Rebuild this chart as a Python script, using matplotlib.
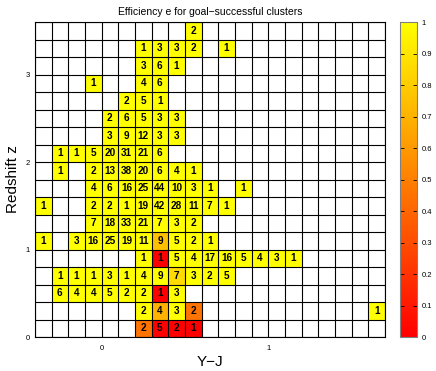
import numpy as np
import matplotlib
matplotlib.use("Agg")
import matplotlib.pyplot as plt
import matplotlib.ticker as ticker

plt.rcParams['font.family'] = ['Liberation Sans', 'DejaVu Sans']

# bin edges
x_edges = np.round(np.arange(-0.4, 1.7001, 0.1), 2)   # Y-J
z_edges = np.round(np.arange(0.0, 3.6001, 0.2), 2)    # redshift

# number of clusters per cell, rows from z=0 upwards, 21 columns
counts = [
    [0, 0, 0, 0, 0, 0, 2, 5, 2, 1, 0, 0, 0, 0, 0, 0, 0, 0, 0, 0, 0],
    [0, 0, 0, 0, 0, 0, 2, 4, 3, 2, 0, 0, 0, 0, 0, 0, 0, 0, 0, 0, 1],
    [0, 6, 4, 4, 5, 2, 2, 1, 3, 0, 0, 0, 0, 0, 0, 0, 0, 0, 0, 0, 0],
    [0, 1, 1, 1, 3, 1, 4, 9, 7, 3, 2, 5, 0, 0, 0, 0, 0, 0, 0, 0, 0],
    [0, 0, 0, 0, 0, 0, 1, 1, 5, 4, 17, 16, 5, 4, 3, 1, 0, 0, 0, 0, 0],
    [1, 0, 3, 16, 25, 19, 11, 9, 5, 2, 1, 0, 0, 0, 0, 0, 0, 0, 0, 0, 0],
    [0, 0, 0, 7, 18, 33, 21, 7, 3, 2, 0, 0, 0, 0, 0, 0, 0, 0, 0, 0, 0],
    [1, 0, 0, 2, 2, 1, 19, 42, 28, 11, 7, 1, 0, 0, 0, 0, 0, 0, 0, 0, 0],
    [0, 0, 0, 4, 6, 16, 25, 44, 10, 3, 1, 0, 1, 0, 0, 0, 0, 0, 0, 0, 0],
    [0, 1, 0, 2, 13, 38, 20, 6, 4, 1, 0, 0, 0, 0, 0, 0, 0, 0, 0, 0, 0],
    [0, 1, 1, 5, 20, 31, 21, 6, 0, 0, 0, 0, 0, 0, 0, 0, 0, 0, 0, 0, 0],
    [0, 0, 0, 0, 3, 9, 12, 3, 3, 0, 0, 0, 0, 0, 0, 0, 0, 0, 0, 0, 0],
    [0, 0, 0, 0, 2, 6, 5, 3, 3, 0, 0, 0, 0, 0, 0, 0, 0, 0, 0, 0, 0],
    [0, 0, 0, 0, 0, 2, 5, 1, 0, 0, 0, 0, 0, 0, 0, 0, 0, 0, 0, 0, 0],
    [0, 0, 0, 1, 0, 0, 4, 6, 0, 0, 0, 0, 0, 0, 0, 0, 0, 0, 0, 0, 0],
    [0, 0, 0, 0, 0, 0, 3, 6, 1, 0, 0, 0, 0, 0, 0, 0, 0, 0, 0, 0, 0],
    [0, 0, 0, 0, 0, 0, 1, 3, 3, 2, 0, 1, 0, 0, 0, 0, 0, 0, 0, 0, 0],
    [0, 0, 0, 0, 0, 0, 0, 0, 0, 2, 0, 0, 0, 0, 0, 0, 0, 0, 0, 0, 0],
]

# cells whose efficiency is below 1 (row, col, efficiency); all others are 1
low_eff = [
    (0, 6, 0.45), (0, 7, 0.0), (0, 8, 0.0), (0, 9, 0.0),
    (1, 7, 0.7), (1, 9, 0.45),
    (2, 7, 0.0),
    (3, 8, 0.857),
    (4, 7, 0.0),
    (5, 7, 0.75),
]

counts = np.array(counts)
eff = np.where(counts > 0, 1.0, np.nan)
for r, c, e in low_eff:
    eff[r, c] = e
eff = np.ma.masked_invalid(eff)

fig = plt.figure(figsize=(4.36, 3.71), dpi=100)
ax = fig.add_axes([0.080, 0.0916, 0.803, 0.849])
cax = fig.add_axes([0.917, 0.0916, 0.039, 0.849])

mesh = ax.pcolormesh(x_edges, z_edges, eff, cmap='autumn', vmin=0, vmax=1)

for xe in x_edges:
    ax.axvline(xe, color='black', lw=0.8)
for ze in z_edges:
    ax.axhline(ze, color='black', lw=0.8)

xc = (x_edges[:-1] + x_edges[1:]) / 2
zc = (z_edges[:-1] + z_edges[1:]) / 2
for r in range(counts.shape[0]):
    for c in range(counts.shape[1]):
        if counts[r, c] > 0:
            ax.text(xc[c], zc[r], str(counts[r, c]), ha='center', va='center',
                    fontsize=7.2, fontweight='bold')

ax.set_xlim(x_edges[0], x_edges[-1])
ax.set_ylim(z_edges[0], z_edges[-1])
ax.set_xticks([0, 1])
ax.set_yticks([0, 1, 2, 3])
ax.xaxis.set_minor_locator(ticker.MultipleLocator(0.1))
ax.yaxis.set_minor_locator(ticker.MultipleLocator(0.2))
ax.tick_params(which='both', direction='in', labelsize=5.5, length=3, width=0.6)
ax.tick_params(which='minor', length=2)
ax.tick_params(axis='x', pad=6)
ax.set_xlabel('Y\u2212J', fontsize=11, labelpad=2)
ax.set_ylabel('Redshift z', fontsize=11, labelpad=4)
ax.set_title('Efficiency e for goal\u2212successful clusters', fontsize=7.5, pad=5)

cb = fig.colorbar(mesh, cax=cax, ticks=np.round(np.arange(0, 1.01, 0.1), 1))
cb.ax.set_yticklabels(['0', '0.1', '0.2', '0.3', '0.4', '0.5', '0.6', '0.7', '0.8', '0.9', '1'])
cb.ax.tick_params(direction='in', labelsize=5.5, length=3, width=0.6, left=True)
cb.outline.set_edgecolor('#808080')

fig.savefig('out.png', dpi=100)
